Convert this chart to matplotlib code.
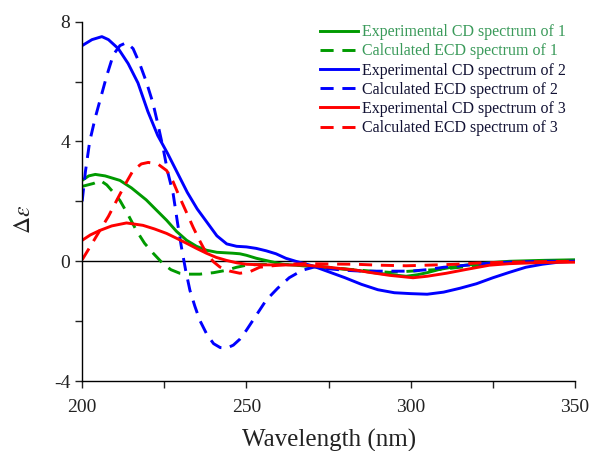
import matplotlib
matplotlib.use("Agg")
import matplotlib.pyplot as plt
from matplotlib.ticker import MultipleLocator

plt.rcParams['font.family'] = ['Liberation Serif', 'DejaVu Serif']
plt.rcParams['mathtext.fontset'] = 'stix'
plt.rcParams['axes.unicode_minus'] = False

# Experimental CD of 1 (green, solid)
exp1_x = [200, 202, 204, 207, 211.5, 215, 219.5, 222.5, 225.7, 228.7, 231.8, 234.8, 237.8, 241,
          245.8, 248, 250, 253, 257, 261, 265, 270, 275, 283.5, 290, 298.6, 302, 305, 308.8,
          315, 324, 330, 340, 350]
exp1_y = [2.7, 2.85, 2.9, 2.85, 2.7, 2.45, 2.05, 1.72, 1.37, 1.0, 0.7, 0.5, 0.37, 0.3,
          0.27, 0.25, 0.2, 0.1, 0.0, -0.1, -0.13, -0.18, -0.22, -0.3, -0.4, -0.5, -0.45, -0.38, -0.27,
          -0.15, -0.05, 0.0, 0.03, 0.05]

# Calculated ECD of 1 (green, dashed)
calc1_x = [200, 203.5, 205.5, 207.5, 209.5, 211.5, 214, 216.5, 219, 221.6, 224.6, 227, 229.7, 232,
           235.8, 240, 243.9, 247, 250, 255, 260, 265, 270, 275, 281.5, 287, 293.6, 300, 308.8,
           315, 324, 330, 337, 345, 350]
calc1_y = [2.5, 2.6, 2.7, 2.55, 2.3, 2.03, 1.55, 1.03, 0.6, 0.27, -0.08, -0.28, -0.4, -0.43,
           -0.43, -0.38, -0.3, -0.2, -0.13, -0.1, -0.1, -0.12, -0.15, -0.2, -0.27, -0.32, -0.37, -0.33, -0.27,
           -0.2, -0.1, -0.05, 0.0, 0.02, 0.03]

# Experimental CD of 2 (blue, solid)
exp2_x = [200, 203, 206, 208, 211, 214, 217, 220, 223, 226, 229, 232, 235, 238, 241, 244, 247, 250,
          253, 256, 259, 262, 265, 270, 275, 280, 285, 290, 295, 300, 305, 310, 315, 320, 325, 330,
          335, 340, 345, 350]
exp2_y = [7.2, 7.4, 7.5, 7.4, 7.1, 6.6, 5.95, 5.0, 4.2, 3.6, 2.95, 2.3, 1.75, 1.3, 0.85, 0.58, 0.5, 0.48,
          0.43, 0.35, 0.25, 0.1, 0.0, -0.15, -0.35, -0.55, -0.77, -0.95, -1.05, -1.08, -1.1, -1.03, -0.9,
          -0.75, -0.55, -0.37, -0.2, -0.1, -0.03, 0.0]

# Calculated ECD of 2 (blue, dashed)
calc2_x = [200, 201, 202.3, 204, 205.5, 207.5, 209.5, 211.5, 213.5, 215.5, 217.5, 219.5, 221.5, 223,
           224.6, 226, 227.7, 229, 230.2, 231.5, 232.8, 234.3, 235.8, 238, 240, 242, 244, 246, 248,
           250, 253, 256, 259.5, 263, 267, 271, 275, 280, 285, 290, 295, 300, 305, 310, 315, 320,
           325, 330, 340, 350]
calc2_y = [2.0, 3.0, 4.0, 4.8, 5.4, 6.2, 6.9, 7.2, 7.3, 7.1, 6.6, 6.0, 5.3, 4.6,
           3.8, 3.0, 2.25, 1.3, 0.48, -0.3, -0.97, -1.5, -1.97, -2.45, -2.75, -2.88, -2.9, -2.8, -2.6,
           -2.3, -1.8, -1.3, -0.9, -0.55, -0.3, -0.18, -0.25, -0.3, -0.33, -0.33, -0.33, -0.33, -0.28,
           -0.2, -0.15, -0.1, -0.05, -0.03, 0.0, 0.0]

# Experimental CD of 3 (red, solid)
exp3_x = [200, 202.5, 205.4, 209, 213.5, 218.5, 222, 225.7, 228.7, 231.8, 234.8, 237.8, 240.8, 243.9,
          247, 250, 255, 260, 268, 275, 283.5, 288, 293.6, 300.7, 305, 310.8, 317, 324, 330, 340, 350]
exp3_y = [0.7, 0.88, 1.03, 1.18, 1.28, 1.2, 1.08, 0.93, 0.77, 0.6, 0.43, 0.27, 0.13, 0.03,
          -0.05, -0.1, -0.12, -0.12, -0.13, -0.2, -0.3, -0.38, -0.47, -0.55, -0.5, -0.4, -0.27, -0.13,
          -0.08, -0.04, -0.03]

# Calculated ECD of 3 (red, dashed)
calc3_x = [200, 202.5, 205.4, 208, 210.5, 213, 215.5, 218, 220.1, 223, 225.7, 227.7, 229.7, 231.8,
           233.8, 235.8, 237.8, 240, 241.9, 245, 248, 251, 254, 258, 263, 268, 275, 283.5, 290, 298.6,
           305, 313.8, 320, 329, 340, 350]
calc3_y = [0.05, 0.5, 1.03, 1.5, 2.03, 2.55, 3.03, 3.25, 3.3, 3.25, 3.03, 2.65, 2.13, 1.62,
           1.13, 0.68, 0.27, -0.02, -0.19, -0.33, -0.4, -0.35, -0.2, -0.15, -0.1, -0.08, -0.09, -0.1,
           -0.13, -0.15, -0.13, -0.1, -0.06, -0.03, -0.01, 0.0]

labels = ["Experimental CD spectrum of 1", "Calculated ECD spectrum of 1",
          "Experimental CD spectrum of 2", "Calculated ECD spectrum of 2",
          "Experimental CD spectrum of 3", "Calculated ECD spectrum of 3"]

green = '#009a00'
blue = '#0000ff'
red = '#ff0000'
dash = (0, (4.5, 3))

fig = plt.figure(figsize=(5.91, 4.51), dpi=100)
ax = fig.add_axes([0.139, 0.155, 0.834, 0.797])

ax.plot(exp1_x, exp1_y, color=green, lw=2.1, label=labels[0])
ax.plot(calc1_x, calc1_y, color=green, lw=2.1, ls=dash, label=labels[1])
ax.plot(exp2_x, exp2_y, color=blue, lw=2.1, label=labels[2])
ax.plot(calc2_x, calc2_y, color=blue, lw=2.1, ls=dash, label=labels[3])
ax.plot(exp3_x, exp3_y, color=red, lw=2.1, label=labels[4])
ax.plot(calc3_x, calc3_y, color=red, lw=2.1, ls=dash, label=labels[5])

ax.axhline(0, color='black', lw=1, zorder=1)

ax.set_xlim(200, 350)
ax.set_ylim(-4, 8)
ax.xaxis.set_major_locator(MultipleLocator(50))
ax.xaxis.set_minor_locator(MultipleLocator(25))
ax.yaxis.set_major_locator(MultipleLocator(4))
ax.yaxis.set_minor_locator(MultipleLocator(2))
ax.tick_params(which='both', direction='out', length=5, width=1, labelsize=14, colors='#222222')
ax.tick_params(axis='x', pad=8)

for s in ['top', 'right']:
    ax.spines[s].set_visible(False)
for s in ['left', 'bottom']:
    ax.spines[s].set_linewidth(1)

ax.set_xlabel("Wavelength (nm)", fontsize=18, color='#222222', labelpad=9)
ax.set_ylabel(r"$\Delta\varepsilon$", fontsize=17, color='#222222')
ax.yaxis.set_label_coords(-0.095, 0.45)

leg = ax.legend(loc='upper left', bbox_to_anchor=(0.482, 0.993), frameon=False, fontsize=11.5,
                handlelength=2.4, handletextpad=0.25, labelspacing=0.2, borderpad=0, borderaxespad=0)
for i, t in enumerate(leg.get_texts()):
    t.set_color('#3a9a5a' if i < 2 else '#111133')

fig.savefig("out.png", dpi=100)
